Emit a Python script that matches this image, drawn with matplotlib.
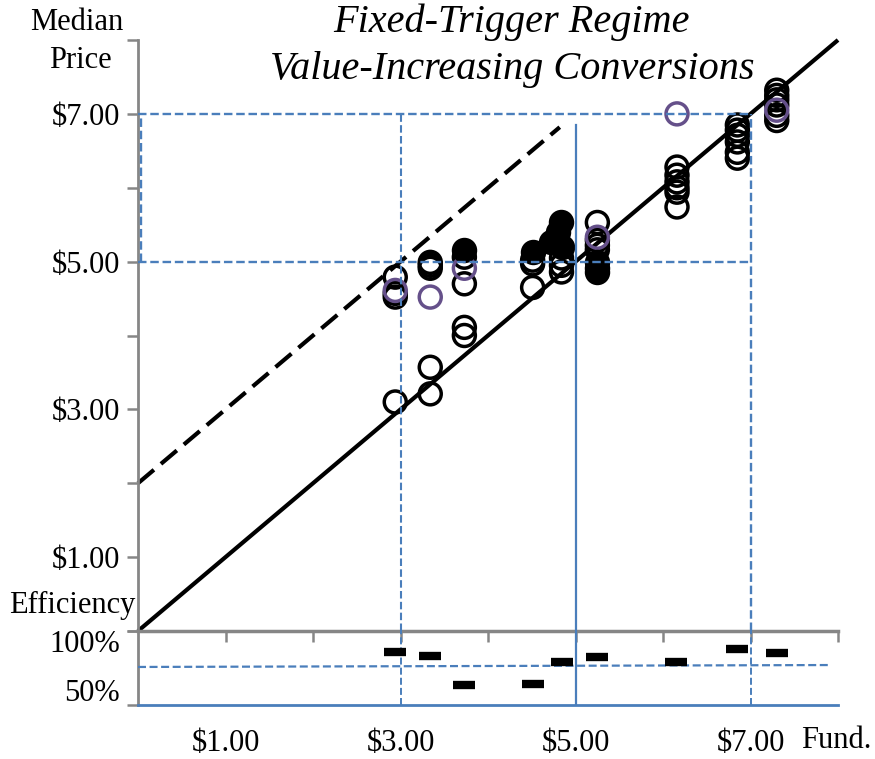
import matplotlib
matplotlib.use("Agg")
import matplotlib.pyplot as plt
import matplotlib.transforms as mtransforms

plt.rcParams['font.family'] = ['Liberation Serif', 'DejaVu Serif']

# ---------------- data ----------------
price_ticks = [1, 3, 5, 7]
price_labels = ['$1.00', '$3.00', '$5.00', '$7.00']
fund_ticks = [1, 3, 5, 7]
fund_labels = ['$1.00', '$3.00', '$5.00', '$7.00']

open_fund = [2.94, 2.94, 2.94, 2.94,
             3.34, 3.34, 3.34, 3.34, 3.34,
             3.73, 3.73, 3.73, 3.73,
             4.51, 4.51, 4.51,
             4.84, 4.84, 4.84,
             5.25, 5.25, 5.25, 5.25,
             6.16, 6.16, 6.16, 6.16, 6.16, 6.16,
             6.85, 6.85, 6.85, 6.85, 6.85, 6.85,
             7.30, 7.30, 7.30, 7.30, 7.30, 7.30]
open_price = [4.79, 4.57, 4.52, 3.10,
              4.99, 4.95, 4.91, 3.57, 3.21,
              5.06, 4.70, 4.11, 4.00,
              5.02, 4.97, 4.65,
              5.05, 4.95, 4.86,
              5.53, 5.29, 5.22, 5.16,
              6.28, 6.17, 6.08, 6.00, 5.94, 5.74,
              6.85, 6.78, 6.71, 6.62, 6.48, 6.40,
              7.32, 7.25, 7.19, 7.12, 6.98, 6.91]

purple_fund = [2.94, 3.34, 3.73, 5.25, 6.16, 7.30]
purple_price = [4.61, 4.52, 4.91, 5.33, 7.00, 7.05]

filled_fund = [3.73, 4.51, 4.72, 4.80, 4.83, 4.84, 5.25, 5.25, 5.25]
filled_price = [5.16, 5.13, 5.27, 5.40, 5.53, 5.20, 4.99, 4.91, 4.86]

eff_fund = [2.94, 3.34, 3.73, 4.51, 4.84, 5.25, 6.15, 6.85, 7.30]
eff_value = [86.0, 83.1, 63.3, 64.4, 79.3, 82.6, 79.3, 87.8, 85.1]
eff_ref_x = [0.0, 7.9]
eff_ref_y = [75.7, 77.0]

diag_x = [0, 8]            # price = fundamental
bubble_x = [0, 4.82]       # price = fundamental + $2
bubble_offset = 2.0

# ---------------- styles ----------------
BLUE = '#4a7ebb'
GRAY = '#868686'
PURPLE = '#65508a'
FS = 22

fig = plt.figure(figsize=(8.75, 7.59), dpi=100)
W, H = 875, 759
ax = fig.add_axes([138 / W, 1 - 631 / H, 700 / W, 591 / H])
axe = fig.add_axes([138 / W, 1 - 705 / H, 700 / W, 74 / H])

for a in (ax, axe):
    a.set_xlim(0, 8)
    a.patch.set_alpha(0)
    a.spines['top'].set_visible(False)
    a.spines['right'].set_visible(False)
    a.spines['left'].set_color(GRAY)
    a.spines['left'].set_linewidth(2)
ax.set_ylim(0, 8)
axe.set_ylim(50, 100)

# main axes ticks
ax.spines['bottom'].set_color(GRAY)
ax.spines['bottom'].set_linewidth(2.5)
ax.set_xticks(range(1, 9))
ax.tick_params(axis='x', direction='out', length=8, width=1.8, color=GRAY,
               labelbottom=False)
ax.set_yticks(range(0, 9))
ax.set_yticklabels(['' if v not in price_ticks else price_labels[price_ticks.index(v)]
                    for v in range(0, 9)])
ax.tick_params(axis='y', direction='out', length=8, width=1.8, color=GRAY,
               labelsize=FS, pad=5)

# efficiency axes ticks
axe.spines['bottom'].set_color(BLUE)
axe.spines['bottom'].set_linewidth(2)
axe.set_xticks(fund_ticks)
axe.set_xticklabels(fund_labels)
axe.tick_params(axis='x', length=0, labelsize=FS, pad=17)
axe.set_yticks([50, 100])
axe.set_yticklabels(['50%', '100%'])
axe.tick_params(axis='y', direction='out', length=8, width=1.8, color=GRAY,
                labelsize=FS, pad=5)
for lab, dy in zip(axe.get_yticklabels(), [15, -10]):
    lab.set_transform(lab.get_transform() +
                      mtransforms.ScaledTranslation(0, dy / 100, fig.dpi_scale_trans))

# black reference lines
ax.plot(diag_x, diag_x, color='black', lw=3, zorder=1, solid_capstyle='butt', clip_on=False)
ax.plot(bubble_x, [x + bubble_offset for x in bubble_x], color='black', lw=3,
        dashes=(5, 2.2), zorder=1, clip_on=False)

# scatter points
MS = 250
MLW = 2.5
ax.scatter(open_fund, open_price, s=MS, facecolors='none', edgecolors='black',
           linewidths=MLW, zorder=2)
ax.scatter(purple_fund, purple_price, s=MS, facecolors='none', edgecolors=PURPLE,
           linewidths=MLW, zorder=2.2)
ax.scatter(filled_fund, filled_price, s=MS, facecolors='black', edgecolors='black',
           linewidths=MLW, zorder=2.5)

# blue guide lines (main panel)
dash = (3.6, 1.6)
ax.plot([0, 7], [7, 7], color=BLUE, lw=1.7, dashes=dash, zorder=3)
ax.plot([0, 7], [5, 5], color=BLUE, lw=1.7, dashes=dash, zorder=3)
ax.plot([0.03, 0.03], [5, 7], color=BLUE, lw=1.7, dashes=dash, zorder=3)
ax.plot([3, 3], [0, 7], color=BLUE, lw=1.5, dashes=dash, zorder=3)
ax.plot([7, 7], [0, 7], color=BLUE, lw=1.7, dashes=dash, zorder=3)
ax.plot([5, 5], [0, 6.85], color=BLUE, lw=1.6, zorder=3)

# efficiency panel
axe.plot([3, 3], [50, 100], color=BLUE, lw=1.4, dashes=dash, zorder=3)
axe.plot([7, 7], [50, 100], color=BLUE, lw=1.4, dashes=dash, zorder=3)
axe.plot([5, 5], [50, 100], color=BLUE, lw=1.6, zorder=3)
axe.plot(eff_ref_x, eff_ref_y, color=BLUE, lw=1.6, dashes=dash, zorder=3)
axe.plot(eff_fund, eff_value, linestyle='none', marker='_', markersize=16,
         markeredgewidth=6, color='black', zorder=4)

# texts
fig.text(511 / W, 1 - 22 / H, 'Fixed-Trigger Regime', fontsize=29, style='italic',
         ha='center', va='center')
fig.text(512 / W, 1 - 70 / H, 'Value-Increasing Conversions', fontsize=29,
         style='italic', ha='center', va='center')
fig.text(77 / W, 1 - 22 / H, 'Median', fontsize=FS, ha='center', va='center')
fig.text(80 / W, 1 - 60 / H, 'Price', fontsize=FS, ha='center', va='center')
fig.text(72 / W, 1 - 605 / H, 'Efficiency', fontsize=FS, ha='center', va='center')
fig.text(836 / W, 1 - 741 / H, 'Fund.', fontsize=FS, ha='center', va='center')

fig.savefig('out.png', dpi=100)
